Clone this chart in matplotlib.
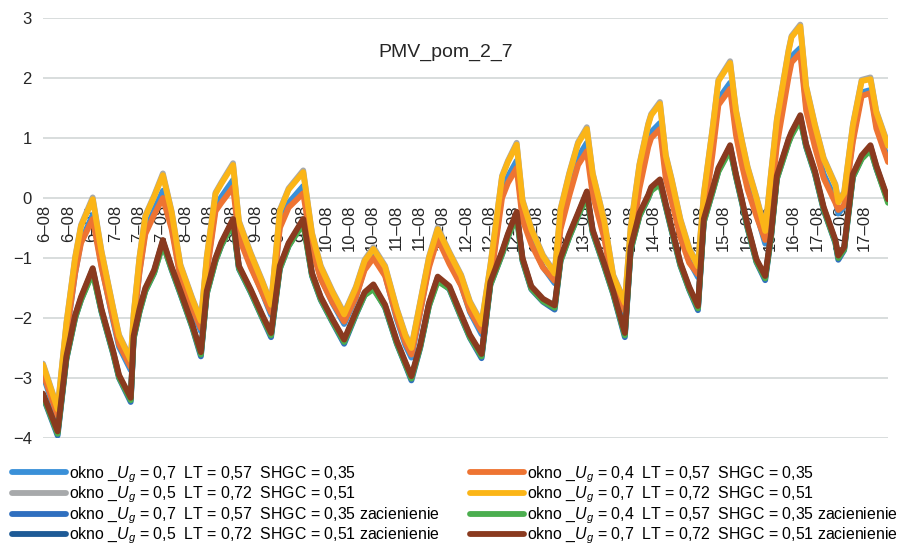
import matplotlib
matplotlib.use('Agg')
import matplotlib.pyplot as plt
from matplotlib import font_manager

names = {f.name for f in font_manager.fontManager.ttflist}
narrow = 'Liberation Sans Narrow' if 'Liberation Sans Narrow' in names else 'Liberation Sans'

plt.rcParams.update({'font.family': ['Liberation Sans', 'DejaVu Sans'],
                     'mathtext.fontset': 'custom',
                     'mathtext.it': narrow + ':italic',
                     'mathtext.rm': narrow,
                     'axes.unicode_minus': True})

# hours since 6-08 00:00
hours = [0, 5, 8, 11, 13, 17, 20, 24,
         26, 30, 31, 33, 35, 38, 41, 44, 47, 51,
         54, 56, 59, 61, 65, 67, 71, 75,
         78, 81, 84, 89, 92, 95, 99,
         103, 107, 110, 113, 117, 121, 124,
         126, 129, 132, 135, 139, 143, 146,
         150, 153, 157, 159, 162, 164, 167, 171,
         175, 177, 180, 183, 186, 188, 192, 195,
         199, 201, 204, 207, 208, 211, 213, 215, 218, 221,
         224, 226, 229, 231, 235, 237, 239, 241, 244,
         247, 249, 251, 255, 256, 259, 261, 264, 267,
         271, 272, 274, 277, 280, 283, 285, 289]

days = [6, 7, 8, 9, 10, 11, 12, 13, 14, 15, 16, 17]

pmv_u07_lt57 = [-2.95, -3.68, -2.30, -1.25, -0.72, -0.28, -1.12, -2.05,
                -2.48, -2.87, -2.12, -1.22, -0.55, -0.20, 0.12, -0.45, -1.32, -1.86,
                -2.22, -1.22, -0.15, 0.02, 0.30, -0.60, -1.12, -1.58,
                -1.95, -0.45, -0.08, 0.20, -0.80, -1.33, -1.75,
                -2.10, -1.66, -1.16, -0.95, -1.28, -2.02, -2.46,
                -2.66, -1.90, -1.12, -0.62, -1.05, -1.45, -1.90,
                -2.27, -1.38, 0.10, 0.36, 0.62, -0.28, -0.72, -1.15,
                -1.42, -0.45, 0.16, 0.68, 0.92, 0.15, -0.62, -1.50,
                -1.93, -0.76, 0.28, 0.95, 1.10, 1.25, 0.42, 0.05, -0.60, -1.05,
                -1.32, -0.25, 0.85, 1.65, 1.92, 1.15, 0.66, 0.22, -0.25,
                -0.76, 0.08, 0.98, 2.12, 2.36, 2.50, 1.55, 0.93, 0.40,
                -0.02, -0.26, -0.14, 1.00, 1.76, 1.80, 1.22, 0.64]

pmv_u05_lt72 = [-2.76, -3.50, -2.08, -0.98, -0.45, 0.01, -0.88, -1.83,
                -2.28, -2.68, -1.93, -0.98, -0.29, 0.04, 0.41, -0.22, -1.11, -1.66,
                -2.03, -0.98, 0.09, 0.26, 0.58, -0.38, -0.91, -1.38,
                -1.76, -0.20, 0.16, 0.46, -0.58, -1.13, -1.55,
                -1.92, -1.48, -1.03, -0.82, -1.13, -1.84, -2.28,
                -2.48, -1.73, -0.98, -0.49, -0.90, -1.28, -1.72,
                -2.08, -1.12, 0.37, 0.62, 0.92, -0.03, -0.50, -0.95,
                -1.24, -0.18, 0.42, 0.93, 1.18, 0.42, -0.38, -1.28,
                -1.73, -0.48, 0.57, 1.24, 1.40, 1.60, 0.72, 0.32, -0.35, -0.83,
                -1.12, 0.07, 1.17, 1.97, 2.28, 1.47, 0.97, 0.52, 0.02,
                -0.53, 0.42, 1.32, 2.47, 2.70, 2.89, 1.87, 1.23, 0.67,
                0.23, -0.05, 0.10, 1.23, 1.97, 2.01, 1.45, 0.89]

pmv_u07_lt57_sh = [-3.31, -3.96, -2.69, -2.00, -1.70, -1.22, -1.90, -2.60,
                   -3.00, -3.40, -2.35, -1.90, -1.55, -1.25, -0.75, -1.20, -1.60, -2.15,
                   -2.64, -1.60, -1.05, -0.79, -0.40, -1.18, -1.57, -2.00,
                   -2.32, -1.18, -0.80, -0.40, -1.30, -1.70, -2.07,
                   -2.43, -1.95, -1.62, -1.49, -1.83, -2.43, -2.79,
                   -3.04, -2.50, -1.80, -1.36, -1.52, -1.99, -2.33,
                   -2.67, -1.45, -0.94, -0.65, -0.28, -1.05, -1.52, -1.73,
                   -1.86, -1.05, -0.65, -0.30, 0.06, -0.58, -1.15, -1.60,
                   -2.32, -0.87, -0.30, 0.00, 0.13, 0.26, -0.15, -0.55, -1.13, -1.53,
                   -1.87, -0.40, 0.10, 0.45, 0.83, 0.35, -0.07, -0.51, -1.07,
                   -1.37, -0.65, 0.32, 0.93, 1.05, 1.33, 0.85, 0.40, -0.20,
                   -0.75, -1.03, -0.87, 0.35, 0.66, 0.83, 0.49, -0.05]

pmv_u05_lt72_sh = [-3.28, -3.91, -2.66, -1.97, -1.67, -1.19, -1.87, -2.57,
                   -2.97, -3.35, -2.32, -1.87, -1.52, -1.22, -0.72, -1.17, -1.57, -2.12,
                   -2.59, -1.57, -1.02, -0.76, -0.37, -1.15, -1.54, -1.97,
                   -2.27, -1.15, -0.77, -0.37, -1.27, -1.67, -2.04,
                   -2.38, -1.92, -1.59, -1.46, -1.80, -2.40, -2.76,
                   -2.99, -2.47, -1.77, -1.33, -1.49, -1.96, -2.30,
                   -2.62, -1.42, -0.91, -0.62, -0.25, -1.02, -1.49, -1.70,
                   -1.81, -1.02, -0.62, -0.27, 0.09, -0.55, -1.12, -1.57,
                   -2.27, -0.84, -0.27, 0.03, 0.16, 0.29, -0.12, -0.52, -1.10, -1.50,
                   -1.82, -0.37, 0.13, 0.48, 0.86, 0.38, -0.04, -0.48, -1.04,
                   -1.32, -0.62, 0.35, 0.96, 1.08, 1.36, 0.88, 0.43, -0.17,
                   -0.72, -0.98, -0.84, 0.38, 0.69, 0.86, 0.52, -0.04]

pmv_u04_lt57 = [-2.92, -3.63, -2.28, -1.25, -0.75, -0.35, -1.15, -2.02,
                -2.44, -2.82, -2.10, -1.24, -0.60, -0.28, 0.00, -0.52, -1.33, -1.84,
                -2.17, -1.25, -0.22, -0.08, 0.18, -0.66, -1.15, -1.58,
                -1.91, -0.50, -0.16, 0.08, -0.85, -1.35, -1.74,
                -2.06, -1.65, -1.20, -1.00, -1.30, -1.99, -2.42,
                -2.61, -1.90, -1.16, -0.68, -1.10, -1.46, -1.88,
                -2.22, -1.40, 0.00, 0.25, 0.50, -0.36, -0.77, -1.16,
                -1.38, -0.52, 0.04, 0.55, 0.78, 0.05, -0.68, -1.50,
                -1.88, -0.82, 0.16, 0.85, 1.00, 1.15, 0.32, -0.05, -0.66, -1.08,
                -1.27, -0.34, 0.74, 1.55, 1.82, 1.05, 0.56, 0.14, -0.30,
                -0.70, -0.02, 0.88, 2.02, 2.26, 2.42, 1.46, 0.85, 0.33,
                -0.08, -0.20, -0.12, 0.94, 1.70, 1.75, 1.16, 0.60]

pmv_u07_lt72 = [-2.78, -3.52, -2.10, -1.00, -0.47, -0.02, -0.90, -1.85,
                -2.30, -2.70, -1.95, -1.00, -0.31, 0.02, 0.38, -0.24, -1.13, -1.68,
                -2.05, -1.00, 0.07, 0.24, 0.55, -0.40, -0.93, -1.40,
                -1.78, -0.22, 0.14, 0.43, -0.60, -1.15, -1.57,
                -1.94, -1.50, -1.05, -0.85, -1.15, -1.86, -2.30,
                -2.50, -1.75, -1.00, -0.52, -0.92, -1.30, -1.74,
                -2.10, -1.14, 0.35, 0.60, 0.89, -0.05, -0.52, -0.97,
                -1.26, -0.20, 0.40, 0.91, 1.15, 0.40, -0.40, -1.30,
                -1.75, -0.50, 0.55, 1.22, 1.38, 1.57, 0.70, 0.30, -0.37, -0.85,
                -1.14, 0.05, 1.15, 1.95, 2.25, 1.45, 0.95, 0.50, 0.00,
                -0.55, 0.40, 1.30, 2.45, 2.68, 2.86, 1.85, 1.21, 0.65,
                0.21, -0.07, 0.08, 1.21, 1.95, 1.98, 1.43, 0.87]

pmv_u04_lt57_sh = [-3.30, -3.93, -2.68, -2.00, -1.70, -1.25, -1.89, -2.59,
                   -2.99, -3.37, -2.34, -1.90, -1.55, -1.25, -0.78, -1.19, -1.59, -2.14,
                   -2.61, -1.60, -1.05, -0.79, -0.43, -1.17, -1.56, -1.99,
                   -2.29, -1.18, -0.80, -0.43, -1.29, -1.69, -2.06,
                   -2.40, -1.94, -1.62, -1.52, -1.82, -2.42, -2.78,
                   -3.01, -2.49, -1.80, -1.39, -1.51, -1.98, -2.32,
                   -2.64, -1.45, -0.94, -0.65, -0.31, -1.04, -1.51, -1.72,
                   -1.83, -1.05, -0.65, -0.30, 0.03, -0.57, -1.14, -1.59,
                   -2.29, -0.87, -0.30, 0.00, 0.12, 0.23, -0.14, -0.54, -1.12, -1.52,
                   -1.84, -0.40, 0.10, 0.44, 0.80, 0.36, -0.06, -0.50, -1.06,
                   -1.34, -0.65, 0.32, 0.92, 1.04, 1.30, 0.86, 0.41, -0.19,
                   -0.74, -1.00, -0.86, 0.35, 0.65, 0.80, 0.50, -0.08]

pmv_u07_lt72_sh = [-3.26, -3.89, -2.64, -1.95, -1.65, -1.17, -1.85, -2.55,
                   -2.95, -3.33, -2.30, -1.85, -1.50, -1.20, -0.70, -1.15, -1.55, -2.10,
                   -2.57, -1.55, -1.00, -0.74, -0.35, -1.13, -1.52, -1.95,
                   -2.25, -1.13, -0.75, -0.35, -1.25, -1.65, -2.02,
                   -2.36, -1.90, -1.57, -1.44, -1.78, -2.38, -2.74,
                   -2.97, -2.45, -1.75, -1.31, -1.47, -1.94, -2.28,
                   -2.60, -1.40, -0.89, -0.60, -0.23, -1.00, -1.47, -1.68,
                   -1.79, -1.00, -0.60, -0.25, 0.11, -0.53, -1.10, -1.55,
                   -2.25, -0.82, -0.25, 0.05, 0.18, 0.31, -0.10, -0.50, -1.08, -1.48,
                   -1.80, -0.35, 0.15, 0.50, 0.88, 0.40, -0.02, -0.46, -1.02,
                   -1.30, -0.60, 0.37, 0.98, 1.10, 1.38, 0.90, 0.45, -0.15,
                   -0.70, -0.96, -0.82, 0.40, 0.71, 0.88, 0.54, -0.02]

series = [pmv_u07_lt57, pmv_u05_lt72, pmv_u07_lt57_sh, pmv_u05_lt72_sh,
          pmv_u04_lt57, pmv_u07_lt72, pmv_u04_lt57_sh, pmv_u07_lt72_sh]
labels = ['okno _$U_g$ = 0,7  LT = 0,57  SHGC = 0,35',
          'okno _$U_g$ = 0,5  LT = 0,72  SHGC = 0,51',
          'okno _$U_g$ = 0,7  LT = 0,57  SHGC = 0,35 zacienienie',
          'okno _$U_g$ = 0,5  LT = 0,72  SHGC = 0,51 zacienienie',
          'okno _$U_g$ = 0,4  LT = 0,57  SHGC = 0,35',
          'okno _$U_g$ = 0,7  LT = 0,72  SHGC = 0,51',
          'okno _$U_g$ = 0,4  LT = 0,57  SHGC = 0,35 zacienienie',
          'okno _$U_g$ = 0,7  LT = 0,72  SHGC = 0,51 zacienienie']
colors = ['#3a90d8', '#a7a9ab', '#2f6fbf', '#1d5a96',
          '#ee7432', '#fbb517', '#4bae4f', '#8a3a1f']

fig = plt.figure(figsize=(9.04, 5.45), dpi=100)
ax = fig.add_axes([43 / 904, 1 - 438 / 545, 845 / 904, 420 / 545])

lines = []
for vals, col, lab in zip(series, colors, labels):
    ln, = ax.plot(hours, vals, color=col, lw=4.2, label=lab, zorder=3,
                  solid_joinstyle='round', solid_capstyle='round')
    lines.append(ln)

ax.set_xlim(0, 289)
ax.set_ylim(-4, 3)
ax.set_yticks(range(-4, 4))
ax.set_xticks([])
ax.grid(axis='y', color='#d5dada', lw=1.3)
ax.set_axisbelow(True)
for s in ax.spines.values():
    s.set_visible(False)
ax.tick_params(axis='y', length=0, pad=8, labelsize=12, labelcolor='#262626')

# date labels hang under the zero line, three per day
for i in range(len(days) * 3):
    t = i * 8
    ax.annotate(f'{days[t // 24]}–08', (t, 0), xytext=(1.5, -5), textcoords='offset points',
                rotation=90, ha='center', va='top', fontsize=12, color='#262626', zorder=2)

ax.text(0.477, 0.917, 'PMV_pom_2_7', transform=ax.transAxes, ha='center', va='center',
        fontsize=14, color='#262626')

leg_kw = dict(frameon=False, loc='upper left', handlelength=3.4,
              handletextpad=0.2, labelspacing=0.0, borderpad=0, borderaxespad=0,
              prop={'family': narrow, 'size': 11.4})
fig.legend(handles=lines[:4], bbox_to_anchor=(12 / 904, 1 - 464 / 545), **leg_kw)
fig.legend(handles=lines[4:], bbox_to_anchor=(470 / 904, 1 - 464 / 545), **leg_kw)

fig.savefig('out.png', dpi=100, facecolor='white')
